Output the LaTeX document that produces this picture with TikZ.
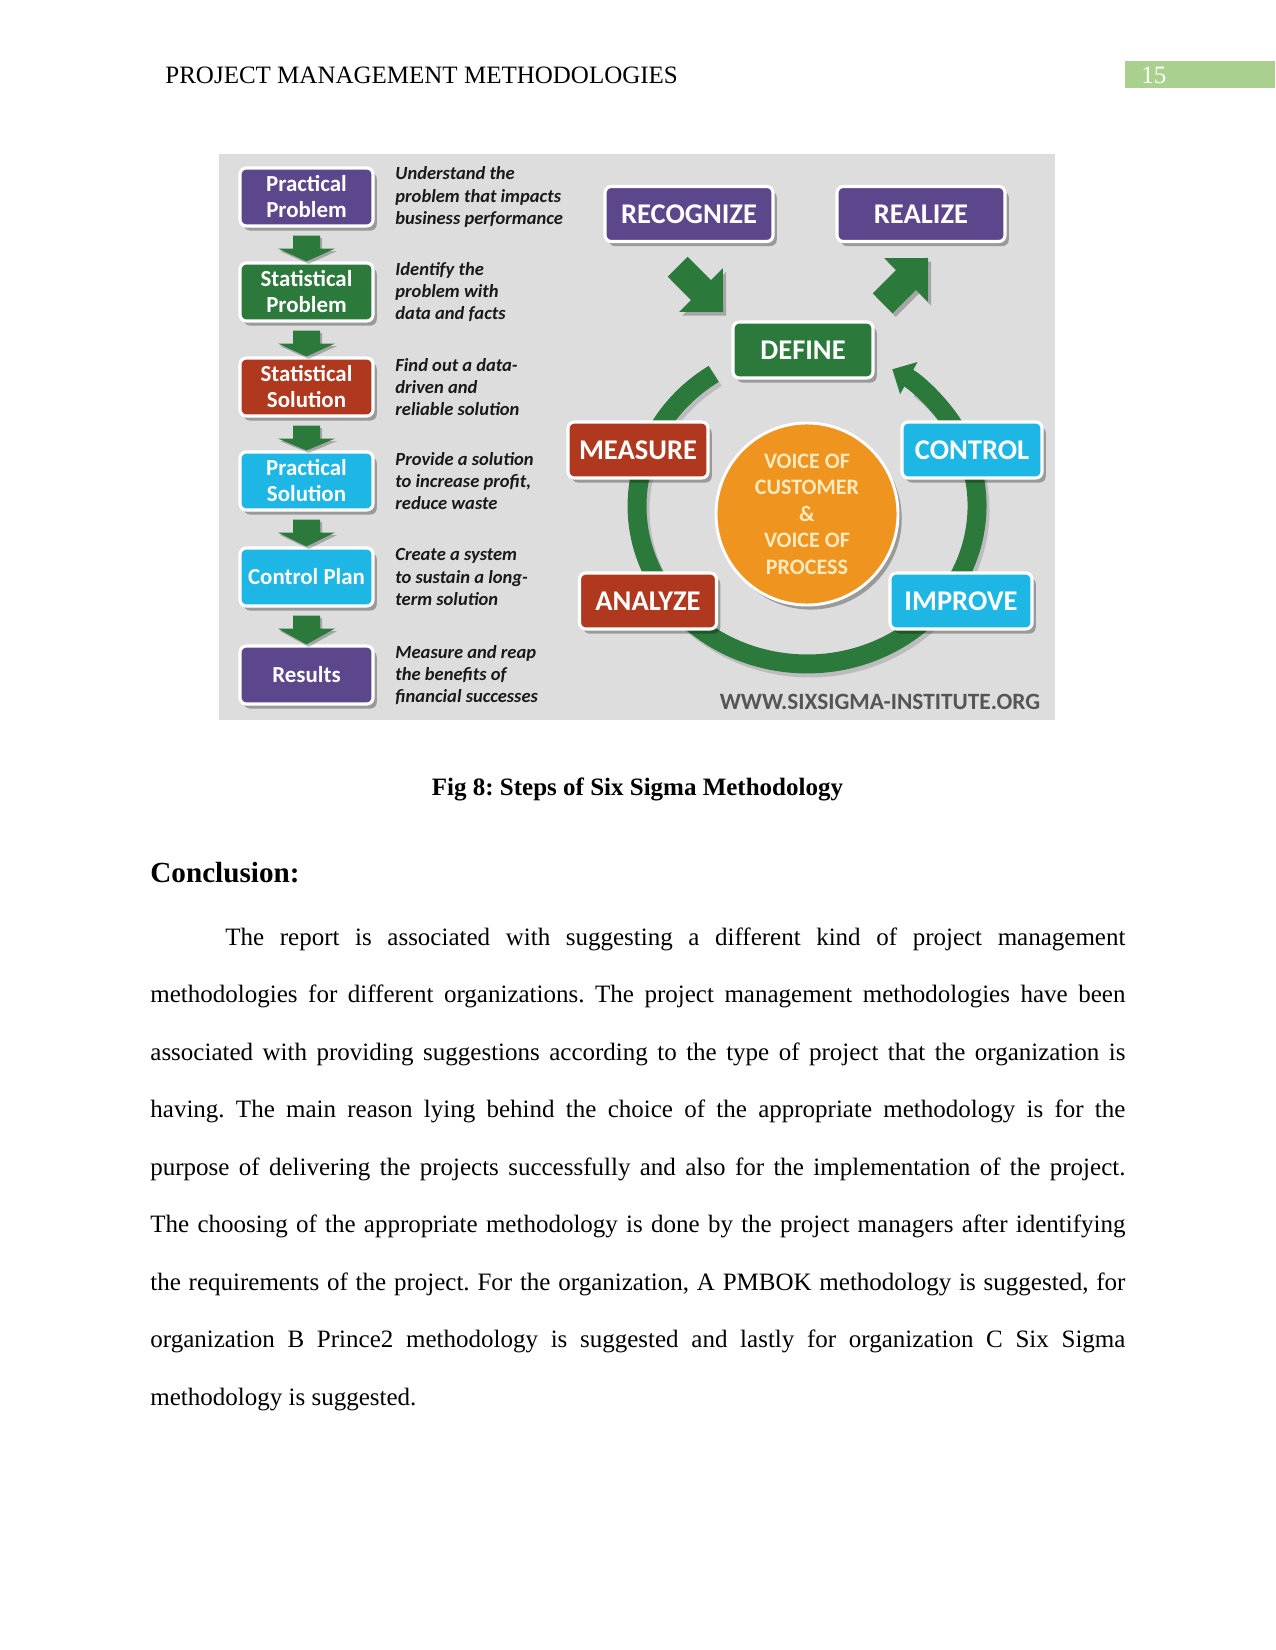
\documentclass[tikz,border=0pt]{standalone}
\usepackage{fontspec}
\setmainfont{Liberation Serif}
\newfontfamily\carlito{Carlito}
\usetikzlibrary{shadows,arrows.meta,calc}
\frenchspacing
\newlength\pxu \setlength\pxu{0.48pt}
\definecolor{bggray}{HTML}{DDDDDD}
\definecolor{spurple}{HTML}{5D478C}
\definecolor{sgreen}{HTML}{2B7A3B}
\definecolor{sred}{HTML}{B0381E}
\definecolor{scyan}{HTML}{1EB6E4}
\definecolor{sorange}{HTML}{EE941F}
\definecolor{hgreen}{HTML}{A9D08E}
\definecolor{wmark}{HTML}{555555}
\definecolor{cream}{HTML}{FCE9BE}
\newcommand\greendown[2]{%
  \fill[sgreen, drop shadow={shadow xshift=1pt, shadow yshift=-1.2pt, opacity=0.25, fill=black}]
    ($(#1.south)+(-13.5,8)$) -- ($(#1.south)+(13.5,8)$) -- ($(#1.south)+(13.5,21)$)
    -- ($(#1.south)+(28.5,21)$) -- (#2.north) -- ($(#1.south)+(-28.5,21)$)
    -- ($(#1.south)+(-13.5,21)$) -- cycle;}
\begin{document}
\begin{tikzpicture}[x=0.48pt,y=-0.48pt,
  sbox/.style={draw=white, line width=1.5pt, rounded corners=3pt, text=white,
    align=center, inner sep=0pt,
    drop shadow={shadow xshift=1.8pt, shadow yshift=-2.2pt, opacity=0.3, fill=black}},
  lbox/.style={sbox, minimum width=133\pxu, minimum height=58\pxu,
    font=\carlito\bfseries\fontsize{11}{12.5}\selectfont},
  bbox/.style={sbox, minimum height=56\pxu,
    font=\carlito\bfseries\fontsize{13.7}{15}\selectfont},
  desc/.style={anchor=west, align=left, inner sep=0pt, text=black!90,
    font=\carlito\bfseries\itshape\fontsize{8.9}{10.6}\selectfont},
  para/.style={anchor=base west, inner sep=0pt, font=\fontsize{12}{14}\selectfont},
  fatarrow/.style={fill=sgreen, drop shadow={shadow xshift=1.5pt, shadow yshift=-1.8pt, opacity=0.25, fill=black}}
]
\useasboundingbox[fill=white] (0,0) rectangle (1275,1650);

% header
\node[para] (head) at (165,84) {PROJECT MANAGEMENT METHODOLOGIES};
\fill[hgreen] (1125,61) rectangle (1275,88);
\node[para, text=white] (pagenum) at (1141,84) {15};

% image background
\fill[bggray] (219,154) rectangle (1055,720);

% left column
\node[lbox, fill=spurple] (pp) at (306.5,197) {Practical\\Problem};
\node[lbox, fill=sgreen]  (sp) at (306.5,292) {Statistical\\Problem};
\node[lbox, fill=sred]    (ss) at (306.5,387) {Statistical\\Solution};
\node[lbox, fill=scyan]   (ps) at (306.5,481) {Practical\\Solution};
\node[lbox, fill=scyan]   (cp) at (306.5,577) {Control Plan};
\node[lbox, fill=spurple] (rs) at (306.5,675) {Results};
\greendown{pp}{sp}
\greendown{sp}{ss}
\greendown{ss}{ps}
\greendown{ps}{cp}
\greendown{cp}{rs}

\node[desc] (d1) at (395,197) {Understand the\\problem that impacts\\business performance};
\node[desc] (d2) at (395,292) {Identify the\\problem with\\data and facts};
\node[desc] (d3) at (395,387) {Find out a data-\\driven and\\reliable solution};
\node[desc] (d4) at (395,481) {Provide a solution\\to increase profit,\\reduce waste};
\node[desc] (d5) at (395,577) {Create a system\\to sustain a long-\\term solution};
\node[desc] (d6) at (395,675) {Measure and reap\\the benefits of\\financial successes};

% ring
\coordinate (ringstart) at (713.7,373.9);
\draw[black, opacity=0.15, line width=9.1pt] ($(ringstart)+(3,4)$) arc[start angle=-123.3, end angle=-410, x radius=170, y radius=158];
\draw[sgreen, line width=9.1pt, -{Triangle[width=17pt,length=9pt]}] (ringstart)
  arc[start angle=-123.3, end angle=-419.9, x radius=170, y radius=158];

% right boxes
\node[bbox, fill=spurple, minimum width=168\pxu, minimum height=55\pxu] (rec) at (689,214) {RECOGNIZE};
\node[bbox, fill=spurple, minimum width=168\pxu, minimum height=55\pxu] (rea) at (921,214) {REALIZE};
\node[bbox, fill=sgreen, minimum width=140\pxu] (def) at (803,350) {DEFINE};
\node[bbox, fill=sred, minimum width=140\pxu] (mea) at (638,450) {MEASURE};
\node[bbox, fill=scyan, minimum width=140\pxu] (con) at (972,450) {CONTROL};
\node[bbox, fill=sred, minimum width=137\pxu] (ana) at (648,601) {ANALYZE};
\node[bbox, fill=scyan, minimum width=142\pxu] (imp) at (961,601) {IMPROVE};
\node[circle, fill=sorange, draw=white, line width=1.4pt, minimum size=182\pxu, inner sep=0pt,
  text=cream, align=center, font=\carlito\bfseries\fontsize{10.6}{12.7}\selectfont,
  drop shadow={shadow xshift=1.8pt, shadow yshift=-2.2pt, opacity=0.3, fill=black}]
  (voc) at (807,514) {VOICE OF\\CUSTOMER\\\&\\VOICE OF\\PROCESS};

% fat arrows
\fill[fatarrow] (687.6,256.8) -- (710.9,280.1) -- (722.9,268.1) -- (723,312) -- (679.1,311.9) -- (691.1,299.9) -- (667.8,276.6) -- cycle;
\fill[fatarrow] (872.8,293.4) -- (896.1,270.1) -- (884.1,258.1) -- (928,258) -- (927.9,301.9) -- (915.9,289.9) -- (892.6,313.2) -- cycle;

\node[inner sep=0pt, text=wmark, font=\carlito\bfseries\fontsize{11.2}{13}\selectfont] (wm) at (880,702) {WWW.SIXSIGMA-INSTITUTE.ORG};

% caption and text
\node[anchor=base, inner sep=0pt, font=\bfseries\fontsize{12}{14}\selectfont] (cap) at (637.5,795) {Fig 8: Steps of Six Sigma Methodology};
\node[para, font=\bfseries\fontsize{14}{16}\selectfont] (concl) at (150,882) {Conclusion:};

\node[para] (l1) at (225,945) {\hbox to 432pt{The report is associated with suggesting a different kind of project management}};
\node[para] (l2) at (150,1002.5) {\hbox to 468pt{methodologies for different organizations. The project management methodologies have been}};
\node[para] (l3) at (150,1060) {\hbox to 468pt{associated with providing suggestions according to the type of project that the organization is}};
\node[para] (l4) at (150,1117.5) {\hbox to 468pt{having. The main reason lying behind the choice of the appropriate methodology is for the}};
\node[para] (l5) at (150,1175) {\hbox to 468pt{purpose of delivering the projects successfully and also for the implementation of the project.}};
\node[para] (l6) at (150,1232.5) {\hbox to 468pt{The choosing of the appropriate methodology is done by the project managers after identifying}};
\node[para] (l7) at (150,1290) {\hbox to 468pt{the requirements of the project. For the organization, A PMBOK methodology is suggested, for}};
\node[para] (l8) at (150,1347.5) {\hbox to 468pt{organization B Prince2 methodology is suggested and lastly for organization C Six Sigma}};
\node[para] (l9) at (150,1405) {methodology is suggested.};
\end{tikzpicture}
\end{document}
